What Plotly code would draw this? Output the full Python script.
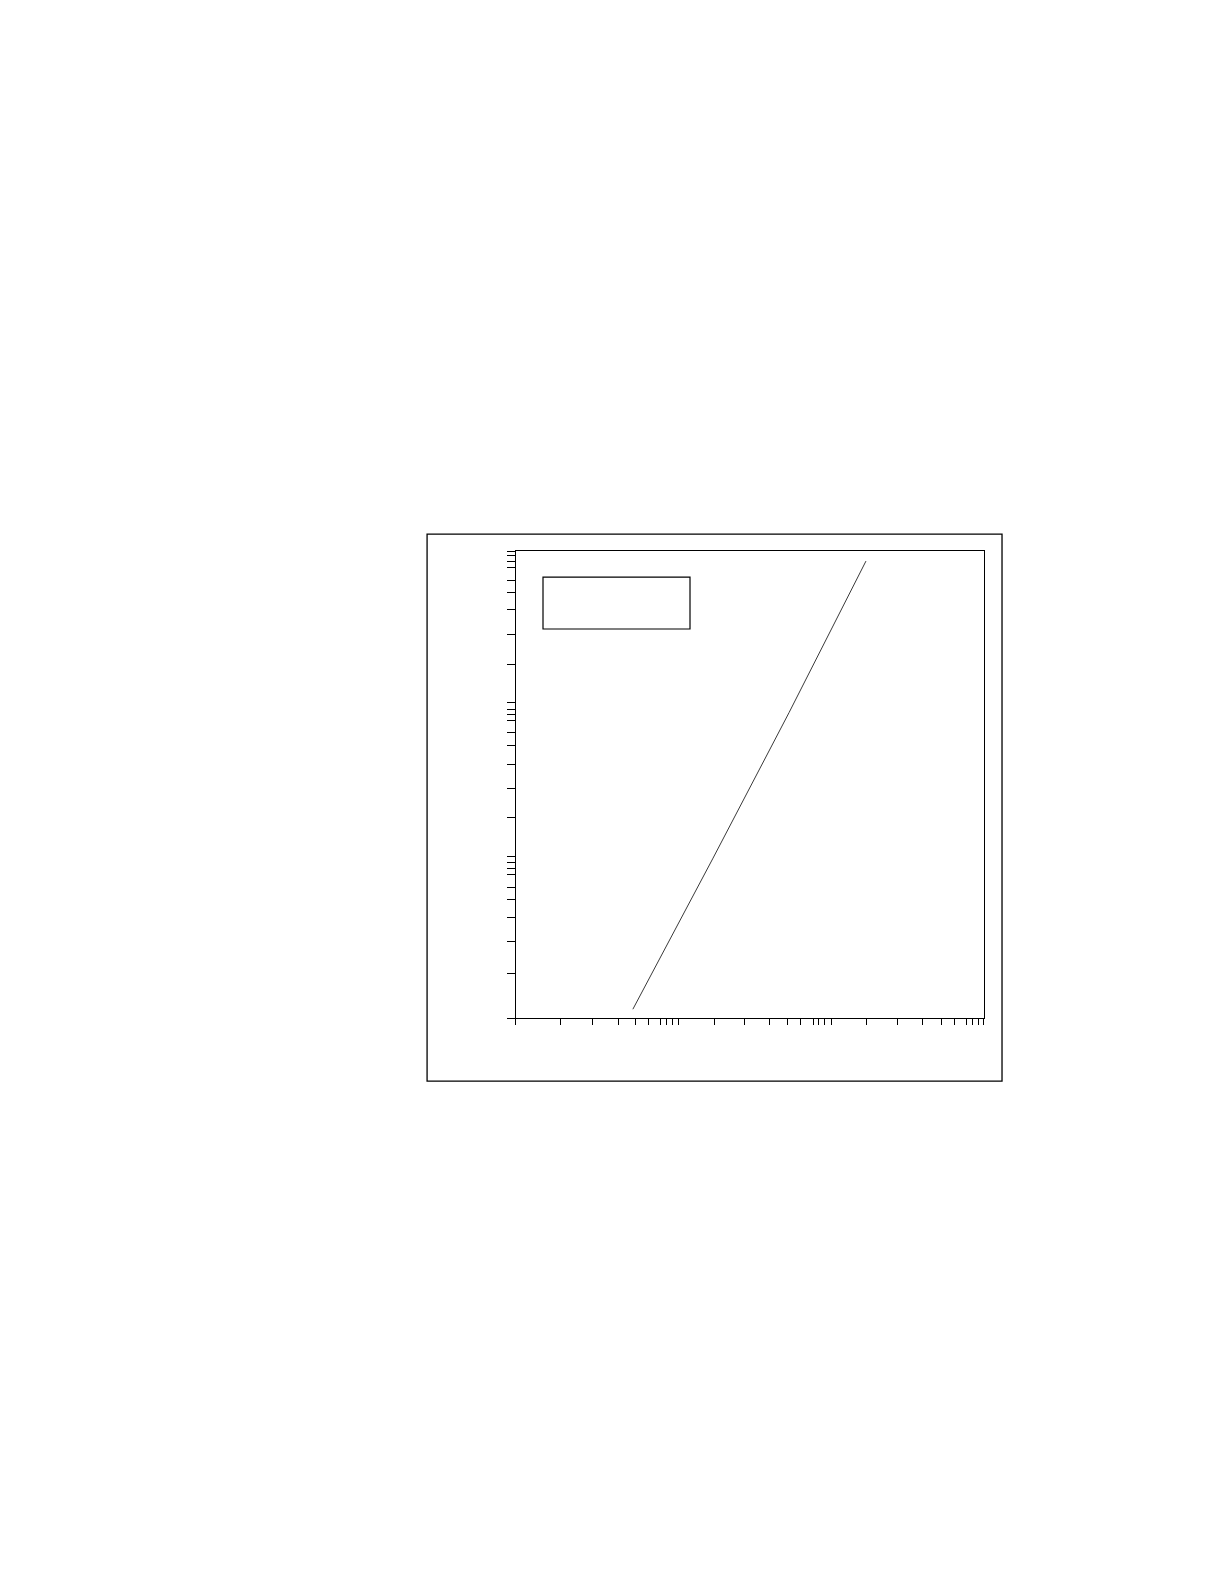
import plotly.graph_objects as go

# values (log-log, no visible labels)
line_x = [2.95, 9.8, 31.0, 98.5]
line_y = [0.58, 5.6, 51.0, 500.0]

# tick marks, same layout on both axes
x_ticks = [0.508,
           1, 1.6, 2.36, 3.05, 3.76, 4.44, 4.86, 5.32, 5.82,
           10.15, 15.95, 22.9, 30.45, 37.0, 44.4, 48.5, 52.4, 58.2,
           100, 159.5, 232, 309, 371, 444, 486, 532, 582]
y_ticks = [0.508,
           1, 1.6, 2.3, 3.05, 3.65, 4.4, 4.85, 5.3, 5.8,
           10.4, 16.3, 23.2, 30.9, 37.5, 45.5, 49.3, 53.7, 58.9,
           105, 165, 240, 313, 375, 453, 497, 542, 582]

fig = go.Figure()
fig.add_trace(go.Scatter(x=line_x, y=line_y, mode="lines",
                         line=dict(color="#3a3a3a", width=1),
                         showlegend=False, hoverinfo="skip"))

axis_style = dict(type="log", range=[-0.294, 2.765],
                  showgrid=False, zeroline=False,
                  showline=True, linecolor="black", linewidth=1.3, mirror=True,
                  ticks="outside", tickcolor="black", tickwidth=1,
                  showticklabels=False)

fig.update_xaxes(**axis_style, tickvals=x_ticks, ticklen=6)
fig.update_yaxes(**axis_style, tickvals=y_ticks, ticklen=8)

# outer frame and the (empty) legend box
fig.add_shape(type="rect", xref="paper", yref="paper",
              x0=-0.190, x1=1.0385, y0=-0.135, y1=1.036,
              line=dict(color="black", width=1.3))
fig.add_shape(type="rect", xref="paper", yref="paper",
              x0=0.0577, x1=0.3718, y0=0.833, y1=0.944,
              line=dict(color="black", width=1.2))

fig.update_layout(width=1224, height=1584,
                  margin=dict(l=508, r=248, t=543, b=574),
                  plot_bgcolor="white", paper_bgcolor="white")

fig.write_html("out.html")
